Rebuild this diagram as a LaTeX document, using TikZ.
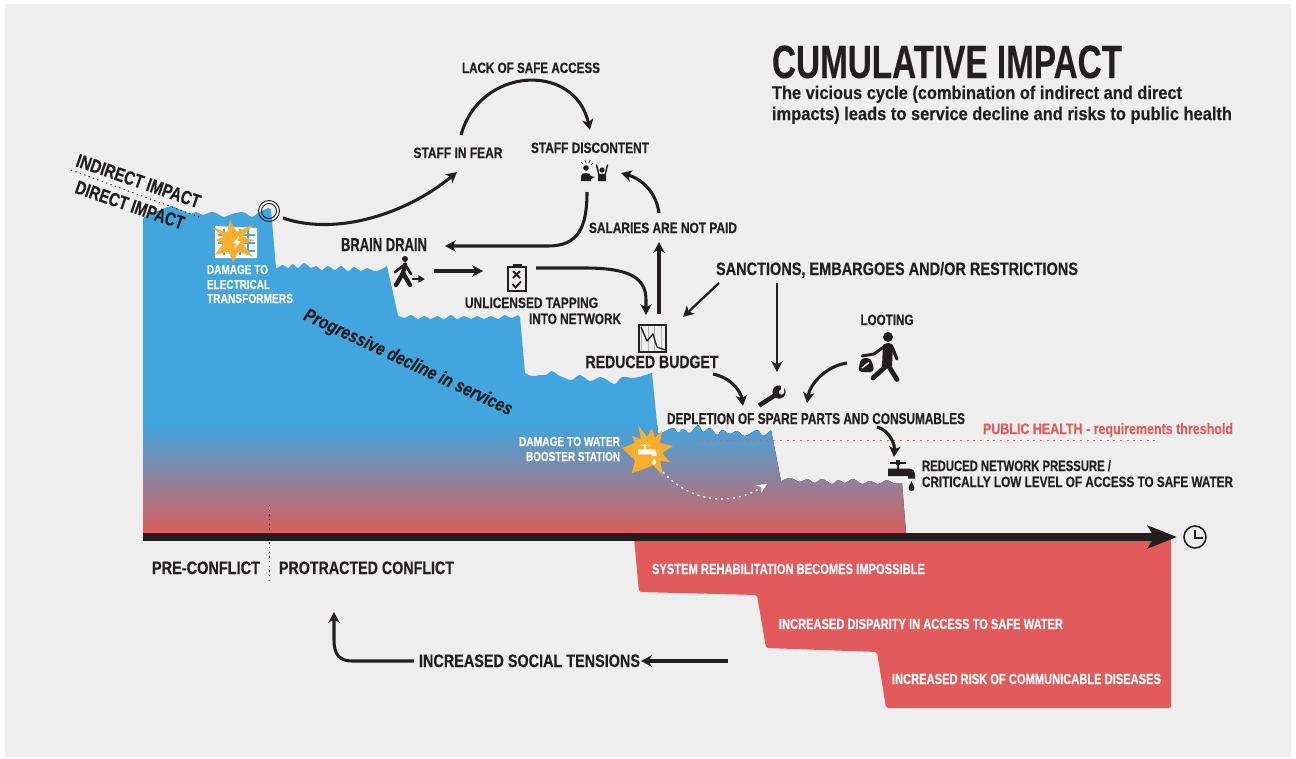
\documentclass[tikz,border=0pt]{standalone}
\usepackage{fontspec}
\setmainfont{Liberation Sans}
\usetikzlibrary{arrows.meta}
\definecolor{ink}{HTML}{231F20}
\definecolor{paper}{HTML}{EEEEEE}
\definecolor{wblue}{HTML}{42A5DD}
\definecolor{wred}{HTML}{DB5E5C}
\definecolor{lred}{HTML}{E35A5A}
\definecolor{burst}{HTML}{FBAE30}
% set a text condensed so that it is #1 reference pixels wide
\newcommand\tw[2]{\setbox0\hbox{#2}\pgfmathsetmacro\twr{#1*0.75/\the\wd0}\addfontfeature{FakeStretch=\twr,FakeBold=0.25}#2}
\newcommand\waterpath{(143,533) -- (143,218)
 -- plot[smooth,tension=.6] coordinates{(143,218)(150,214)(158,211)(165,208)(172,206)(178,209)(184,211)(190,214)(196,212)(203,215)(208,213)(213,212)(218,214)(224,217)(232,214)(242,212)(247,214)(252,217)(258,213)(264,210)(268,208)}
 -- (271,209) -- (276,268)
 -- plot[smooth,tension=.6] coordinates{(277,268)(283,265)(288,268)(293,264)(298,268)(304,263)(311,268)(316,266)(322,270)(328,266)(335,270)(341,266)(348,271)(354,267)(361,271)(367,268)(374,271)(380,270)(387,266)}
 -- (398,315)
 -- plot[smooth,tension=.6] coordinates{(399,316)(405,318)(411,315)(418,319)(424,316)(431,319)(437,316)(444,319)(451,315)(457,319)(464,316)(471,319)(477,316)(484,319)(491,316)(498,319)(505,315)(511,318)(518,315)}
 -- (520,317) -- (525,373)
 -- plot[smooth,tension=.6] coordinates{(525,373)(532,376)(540,375)(546,375)(552,371)(558,375)(565,378)(572,380)(580,375)(590,381)(600,377)(607,380)(615,384)(622,377)(633,378)(642,376)(652,373)}
 -- (658,433)
 -- plot[smooth,tension=.6] coordinates{(662,433)(673,428)(678,433)(683,429)(690,433)(698,425)(703,432)(710,428)(717,435)(722,430)(730,434)(737,431)(745,436)(757,430)(763,436)(771,430)}
 -- (781,481)
 -- plot[smooth,tension=.6] coordinates{(782,481)(790,478)(800,482)(807,479)(815,483)(822,479)(832,484)(838,480)(845,483)(853,479)(862,484)(870,481)(878,484)(887,480)(893,483)(902,483)}
 -- (906,533) -- cycle}
% tap icon, local origin at the middle of the body
\newcommand\tapicon[1]{%
 \fill[#1] (-11,-9) rectangle (5,-7);
 \fill[#1] (-5,-11) rectangle (-1.5,-6);
 \fill[#1] (-4.2,-6) rectangle (-2,-2);
 \fill[#1] (-13,-2.5) -- (7,-2.5) .. controls (12,-2.5) and (14,0) .. (14,4) -- (14,7.5) -- (7,7.5) -- (7,5) -- (-13,5) -- cycle;
 \fill[#1] (10.5,10) .. controls (9.5,13.5) and (7.5,15) .. (7.5,17) .. controls (7.5,21) and (13.5,21) .. (13.5,17) .. controls (13.5,15) and (11.5,13.5) .. (10.5,10) -- cycle;}
\tikzset{
 tx/.style={font=\bfseries\fontsize{#1pt}{#1pt}\selectfont,inner sep=0pt,outer sep=0pt,text=ink},
 wh/.style={tx=#1,text=white},
 link/.style={draw=ink,line width=2.3pt,-{Stealth[length=8pt,width=8.5pt,inset=2.2pt]}},
 slimlink/.style={link,line width=1.7pt},
}
\begin{document}
\begin{tikzpicture}[x=.75pt,y=-.75pt]
\useasboundingbox (0,0) rectangle (1296,758);
\fill[white] (0,0) rectangle (1296,758);
\fill[paper] (5,4) rectangle (1291,757);

% water body
\begin{scope}
 \clip \waterpath;
 \fill[wblue] (130,190) rectangle (920,426);
 \fill[top color=wblue,bottom color=wred] (130,425) rectangle (920,534);
\end{scope}

% lower red steps
\fill[lred,rounded corners=1.5pt] (634,538) -- (639,592) -- (757,595) -- (766,648) -- (877,652) -- (886,708) -- (1171,708) -- (1171,538) -- cycle;

% time axis
\coordinate (axisStart) at (143,537);
\coordinate (axisEnd) at (1177,537);
\draw[ink,line width=6pt,-{Stealth[length=22pt,width=17pt,inset=5pt]}] (axisStart) -- (axisEnd);
\draw[ink,line width=1.2pt] (1195,537) circle[radius=11];
\draw[ink,line width=1.2pt] (1195,530) -- (1195,538) -- (1203,538);

% thresholds and dotted lines
\draw[lred,line width=.8pt,dash pattern=on 1.5pt off 3.5pt] (700,440.5) -- (1157,440.5);
\draw[ink,line width=.7pt,dash pattern=on 1pt off 2.5pt] (269,505) -- (269,583);
\draw[ink,line width=.7pt,dash pattern=on 1pt off 2.5pt] (71,170) -- (202,218);

% ring at the top of the first step
\draw[ink,line width=.7pt] (269,211) circle[radius=10.5];
\draw[ink,line width=.7pt] (269,211) circle[radius=7.5];

% transformer icon
\fill[white] (215,226) -- (257,228) -- (257,258) -- (215,258) -- cycle;
\foreach \yy in {235,243,251} \draw[wblue,line width=1.1pt] (218,\yy) -- (255,\yy);
\foreach \xx in {224,232,240,248} \draw[wblue,line width=1.1pt] (\xx,229) -- (\xx,255);
\fill[burst] (212,227) -- (227,232.5) -- (230,220) -- (236.5,231.5) -- (253,225) -- (243,236.5) -- (254,240.5) -- (243,244) -- (253,257) -- (238.5,251.5) -- (233,262) -- (228.5,251.5) -- (215,255) -- (223,243.5) -- (216,240) -- (223,236.5) -- cycle;
\fill[white] (239,236) -- (233,243) -- (236.5,243) -- (234,249) -- (241,241) -- (237.5,241) -- cycle;

% booster burst
\fill[burst] (638,425) -- (647,437) -- (652,428) -- (655,438) -- (662,430) -- (660,443) -- (673,446) -- (662,453) -- (670,462) -- (660,461) -- (663,475) -- (653,465) -- (647,468) -- (632,473) -- (635,460) -- (622,448) -- (635,443) -- (632,436) -- (641,439) -- cycle;
\begin{scope}[shift={(647,451)},scale=.68]
 \tapicon{white}
\end{scope}

% black tap
\begin{scope}[shift={(901,471)}]
 \tapicon{ink}
\end{scope}

% person walking away
\fill[ink] (405,259) circle[radius=3];
\draw[ink,line width=3.2pt,line cap=round,line join=round] (405,264.5) -- (403,273) -- (396,285);
\draw[ink,line width=3.2pt,line cap=round,line join=round] (403,273) -- (410,285);
\draw[ink,line width=2pt,line cap=round,line join=round] (405,264.5) -- (395,272);
\draw[ink,line width=2pt,line cap=round,line join=round] (405,264.5) -- (411,274);
\coordinate (walkA) at (412,279);
\coordinate (walkB) at (425,279);
\draw[ink,line width=1.6pt,-{Stealth[length=5pt,width=5.5pt,inset=0pt]}] (walkA) -- (walkB);

% clipboard
\draw[ink,line width=1.2pt] (508,267) rectangle (526,291);
\fill[ink] (513,264) rectangle (522,268);
\draw[ink,line width=1.4pt] (513,271) -- (520,278) (520,271) -- (513,278);
\draw[ink,line width=1.4pt] (512.5,284) -- (515.5,287.5) -- (521,281.5);

% budget chart
\draw[gray!60,line width=.4pt,step=6.75] (639,325) grid (666,352);
\draw[ink,line width=1pt] (639,325) rectangle (666,352);
\draw[ink,line width=1pt,line join=round] (641,327) -- (647,341) -- (653,334) -- (657,347) -- (665,350);

% protesters
\fill[ink] (586,168) circle[radius=2.8];
\fill[ink] (581,181) -- (581,176) .. controls (581,172) and (591,172) .. (591,176) -- (595,177) -- (591,179) -- (591,181) -- cycle;
\fill[ink] (602,170) circle[radius=2.6];
\fill[ink] (598,181) -- (598,175) .. controls (598,173.5) and (606,173.5) .. (606,175) -- (606,181) -- cycle;
\draw[ink,line width=1.1pt,line cap=round] (599,175) -- (596.5,165);
\draw[ink,line width=1.1pt,line cap=round] (605,175) -- (607.5,165);
\draw[ink,line width=.5pt] (581,162) -- (583,164) (585,160) -- (586,163) (590,160) -- (589,163) (593,163) -- (591,165);

% wrench
\draw[ink,line width=3.4pt] (759,405.5) -- (777,394);
\fill[ink] (779,392) circle[radius=6.6];
\fill[paper] (781.5,392) circle[radius=2.6];
\fill[paper] (781,386) -- (785,385) -- (784,391) -- (781,391) -- cycle;

% looter
\fill[ink] (888,337) circle[radius=5];
\fill[ink] (883,345) .. controls (886,342.5) and (891,342.5) .. (893,345) -- (892,366) -- (882,366) -- cycle;
\draw[ink,line width=3.6pt,line cap=round,line join=round] (885,367) -- (873,378);
\draw[ink,line width=3.6pt,line cap=round,line join=round] (888,365) -- (897,379.5);
\draw[ink,line width=2.4pt,line cap=round,line join=round] (892,347) -- (897,359);
\draw[ink,line width=2.2pt,line cap=round,line join=round] (885,346) -- (874,354) -- (862,356);
\fill[ink,rounded corners=3pt] (861,358) -- (871,358) -- (874.5,372) -- (858,372) -- cycle;
\draw[white,line width=1pt] (862,368) -- (869,362.5);

% texts
\node[tx=35,anchor=base west] (title) at (772,78) {\tw{350}{CUMULATIVE IMPACT}};
\node[tx=13.8,anchor=base west] (sub1) at (772,99) {\tw{410}{The vicious cycle (combination of indirect and direct}};
\node[tx=13.8,anchor=base west] (sub2) at (772,120) {\tw{460}{impacts) leads to service decline and risks to public health}};
\node[tx=14.3,rotate=-19] (indirect) at (138.5,181) {\tw{130}{INDIRECT IMPACT}};
\node[tx=14.3,rotate=-19] (direct) at (130,205) {\tw{114}{DIRECT IMPACT}};
\node[tx=11.2,anchor=base] (access) at (531,73) {\tw{138}{LACK OF SAFE ACCESS}};
\node[tx=11.2,anchor=base] (fear) at (458,158) {\tw{89}{STAFF IN FEAR}};
\node[tx=11.2,anchor=base] (discontent) at (590,153) {\tw{118}{STAFF DISCONTENT}};
\node[tx=14,anchor=base] (brain) at (384,251) {\tw{86}{BRAIN DRAIN}};
\node[tx=11.2,anchor=base] (salaries) at (663,233) {\tw{148}{SALARIES ARE NOT PAID}};
\node[tx=13.5,anchor=base] (sanctions) at (897,275) {\tw{362}{SANCTIONS, EMBARGOES AND/OR RESTRICTIONS}};
\node[tx=11.2,anchor=base] (looting) at (887,325) {\tw{53}{LOOTING}};
\node[tx=11.2,anchor=base] (tapping) at (531.5,308) {\tw{133}{UNLICENSED TAPPING}};
\node[tx=11.2,anchor=base east] (network) at (621,324) {\tw{92}{INTO NETWORK}};
\node[tx=13.3,anchor=base] (budget) at (652,368) {\tw{133}{REDUCED BUDGET}};
\node[tx=11.8,anchor=base] (depletion) at (816,424) {\tw{298}{DEPLETION OF SPARE PARTS AND CONSUMABLES}};
\node[tx=11.4,text=lred,anchor=base west] (publichealth) at (983,434) {\tw{250}{PUBLIC HEALTH - requirements threshold}};
\node[tx=11.2,anchor=base west] (pressure1) at (922,471) {\tw{189}{REDUCED NETWORK PRESSURE /}};
\node[tx=11.2,anchor=base west] (pressure2) at (922,487) {\tw{311}{CRITICALLY LOW LEVEL OF ACCESS TO SAFE WATER}};
\node[wh=9.8,anchor=base west] (dmg1) at (207,274) {\tw{61}{DAMAGE TO}};
\node[wh=9.8,anchor=base west] (dmg2) at (207,289) {\tw{63}{ELECTRICAL}};
\node[wh=9.8,anchor=base west] (dmg3) at (207,303) {\tw{86}{TRANSFORMERS}};
\node[wh=9.8,anchor=base east] (boost1) at (620,446) {\tw{101}{DAMAGE TO WATER}};
\node[wh=9.8,anchor=base east] (boost2) at (620,461) {\tw{94}{BOOSTER STATION}};
\node[tx=14,font=\bfseries\itshape\fontsize{14pt}{14pt}\selectfont,rotate=-25] (decline) at (408,363) {\tw{228}{Progressive decline in services}};
\node[tx=13.5,anchor=base] (pre) at (206,574) {\tw{108}{PRE-CONFLICT}};
\node[tx=13.5,anchor=base] (protracted) at (366.5,574) {\tw{175}{PROTRACTED CONFLICT}};
\node[wh=11,anchor=base] (rehab) at (788.5,574) {\tw{273}{SYSTEM REHABILITATION BECOMES IMPOSSIBLE}};
\node[wh=11,anchor=base] (disparity) at (921,629) {\tw{284}{INCREASED DISPARITY IN ACCESS TO SAFE WATER}};
\node[wh=11,anchor=base] (risk) at (1026.5,684) {\tw{269}{INCREASED RISK OF COMMUNICABLE DISEASES}};
\node[tx=13.5,anchor=base] (social) at (529.5,667) {\tw{221}{INCREASED SOCIAL TENSIONS}};

% connector ends
\coordinate (ringOut) at (283,218);
\coordinate (fearIn) at (457,172);
\coordinate (fearUp) at (461,135);
\coordinate (discIn) at (590,130);
\coordinate (discOut) at (587,192);
\coordinate (brainIn) at (445,246);
\coordinate (salUp) at (659,213);
\coordinate (discSide) at (621,173);
\coordinate (budUp) at (659,314);
\coordinate (salIn) at (659,242);
\coordinate (walkOut) at (434,271);
\coordinate (clipIn) at (483,271);
\coordinate (clipOut) at (536,268);
\coordinate (budIn) at (646,315);
\coordinate (sancA) at (719,283);
\coordinate (budSide) at (683,317);
\coordinate (sancB) at (777,283);
\coordinate (wrenchTop) at (777,372);
\coordinate (budOut) at (713,374);
\coordinate (wrenchLeft) at (743,406);
\coordinate (lootOut) at (847,363);
\coordinate (wrenchRight) at (807,403);
\coordinate (depOut) at (877,427);
\coordinate (tapIn) at (894,457);
\coordinate (burstOut) at (663,472);
\coordinate (dropIn) at (767,484);
\coordinate (stepsOut) at (728,661);
\coordinate (socialIn) at (641,661);
\coordinate (socialOut) at (414,661);
\coordinate (upTip) at (334,612);

% connectors
\path[link] (ringOut) .. controls (335,236) and (405,215) .. (fearIn);
\path[link] (fearUp) .. controls (480,66) and (575,62) .. (discIn);
\path[link] (discOut) .. controls (587,228) and (578,246) .. (548,246) -- (brainIn);
\path[link] (salUp) .. controls (656,192) and (642,179) .. (discSide);
\path[link] (budUp) -- (salIn);
\path[link] (walkOut) -- (clipIn);
\path[link] (clipOut) -- (585,268) .. controls (630,268) and (646,278) .. (646,300) -- (budIn);
\path[slimlink] (sancA) -- (budSide);
\path[slimlink] (sancB) -- (wrenchTop);
\path[link] (budOut) .. controls (732,378) and (741,392) .. (wrenchLeft);
\path[link] (lootOut) .. controls (826,366) and (810,384) .. (wrenchRight);
\path[link] (depOut) .. controls (889,430) and (895,444) .. (tapIn);
\path[link] (stepsOut) -- (socialIn);
\path[link] (socialOut) -- (352,661) .. controls (339,661) and (334,654) .. (334,640) -- (upTip);
\draw[white,line width=1pt,dash pattern=on 1.5pt off 3pt,-{Stealth[length=7pt,width=6.5pt,inset=2pt]}] (burstOut) .. controls (685,497) and (725,510) .. (dropIn);
\end{tikzpicture}
\end{document}
